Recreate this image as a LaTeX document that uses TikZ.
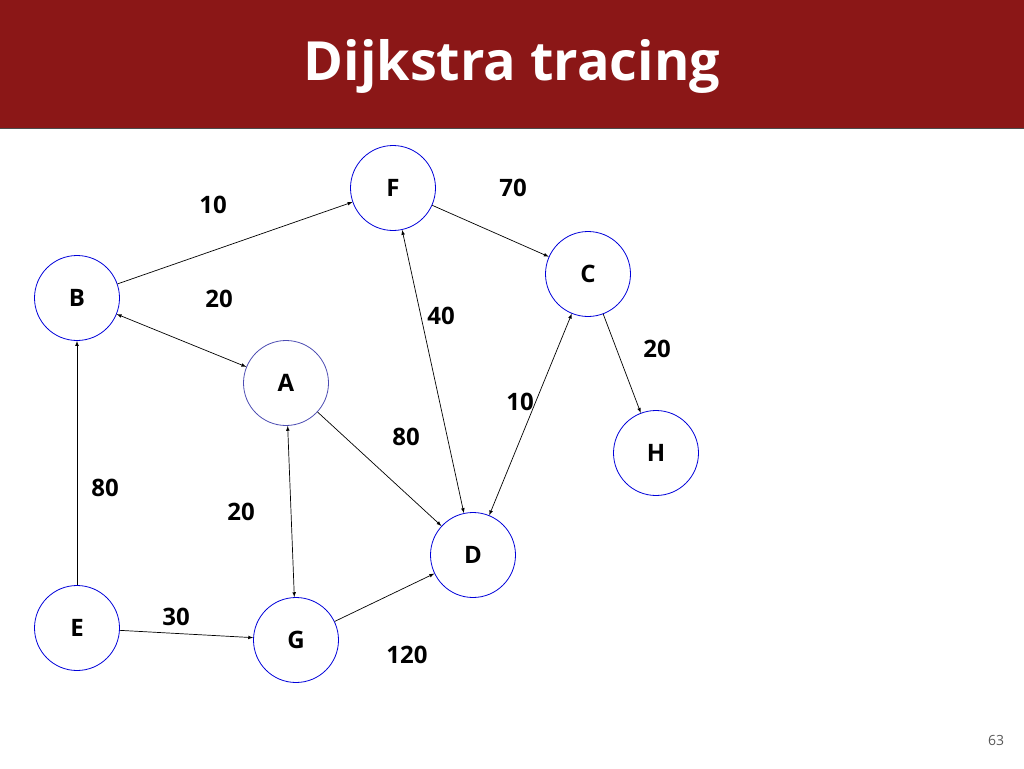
\documentclass[tikz,border=0pt]{standalone}
\usepackage{fontspec}
\setmainfont{Open Sans}
\begin{document}
\begin{tikzpicture}[x=1pt,y=-1pt,
  v/.style={circle,draw=blue!85!black,line width=0.8pt,minimum size=85pt,inner sep=0pt,font=\fontsize{24}{28}\selectfont\bfseries},
  e/.style={-latex,line width=0.7pt},
  ee/.style={latex-latex,line width=0.7pt},
  w/.style={font=\fontsize{24}{28}\selectfont\bfseries}]
\useasboundingbox (0,0) rectangle (1024,768);
\fill[fill={rgb,255:red,139;green,23;blue,23}] (0,0) rectangle (1024,128);
\draw[gray!60!black,line width=0.6pt] (0,128) -- (1024,128);
\node[white,font=\fontsize{54}{60}\selectfont\bfseries] (title) at (512,66) {Dijkstra tracing};
\node[v] (F) at (393,188) {F};
\node[v] (C) at (588,274) {C};
\node[v] (B) at (77,298) {B};
\node[v,draw=blue!40!gray] (A) at (286,383) {A};
\node[v] (H) at (656,453) {H};
\node[v] (D) at (473,555) {D};
\node[v] (E) at (77,628) {E};
\node[v] (G) at (296,640) {G};
\draw[e] (B) -- (F);
\draw[e] (F) -- (C);
\draw[e] (C) -- (H);
\draw[ee] (B) -- (A);
\draw[ee] (A) -- (G);
\draw[e] (A) -- (D);
\draw[ee] (F) -- (D);
\draw[ee] (C) -- (D);
\draw[e] (E) -- (B);
\draw[e] (E) -- (G);
\draw[e] (G) -- (D);
\node[w] (l1) at (213,205) {10};
\node[w] (l2) at (513,188) {70};
\node[w] (l3) at (219,299) {20};
\node[w] (l4) at (441,316) {40};
\node[w] (l5) at (657,349) {20};
\node[w] (l6) at (520,402) {10};
\node[w] (l7) at (406,437) {80};
\node[w] (l8) at (105,488) {80};
\node[w] (l9) at (241,512) {20};
\node[w] (l10) at (176,617) {30};
\node[w] (l11) at (407,655) {120};
\node[gray!70!black,font=\fontsize{14}{16}\selectfont] (pg) at (996,740) {63};
\end{tikzpicture}
\end{document}
